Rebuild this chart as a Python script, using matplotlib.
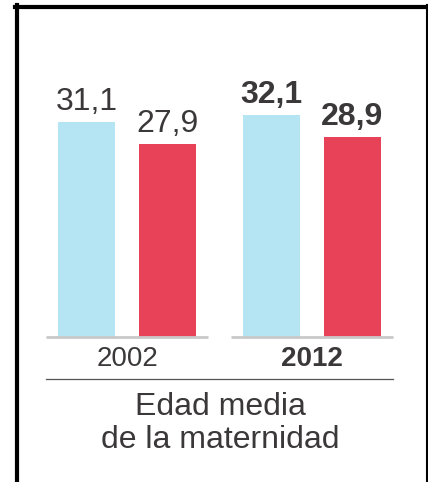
import matplotlib.pyplot as plt
from matplotlib.lines import Line2D

plt.rcParams['font.family'] = ['Liberation Sans', 'DejaVu Sans']

# data
years = ['2002', '2012']
edad_media = [31.1, 32.1]      # light blue bars
edad_primer = [27.9, 28.9]     # red bars
labels_blue = ['31,1', '32,1']
labels_red = ['27,9', '28,9']
bold_year = [False, True]
caption = ['Edad media', 'de la maternidad']

W, H = 428, 482
DPI = 100
BLUE = '#b5e4f3'
RED = '#e84258'
TXT = '#3b383a'

fig = plt.figure(figsize=(W / DPI, H / DPI), dpi=DPI)

# axes placed in pixel space: x 46..393, baseline at y=337 (from top)
ax = fig.add_axes([46 / W, (H - 337) / H, 347 / W, 327 / H])
ax.set_xlim(-0.438, 1.438)
ax.set_ylim(0, 47.25)
ax.axis('off')

off, bw = 0.219, 0.308
xs = list(range(len(years)))
ax.bar([x - off for x in xs], edad_media, width=bw, color=BLUE)
ax.bar([x + off for x in xs], edad_primer, width=bw, color=RED)

for i in xs:
    w = 'bold' if bold_year[i] else 'normal'
    ax.annotate(labels_blue[i], (i - off, edad_media[i]), xytext=(0, 8.5),
                textcoords='offset points', ha='center', va='baseline',
                fontsize=23, color=TXT, fontweight=w)
    ax.annotate(labels_red[i], (i + off, edad_primer[i]), xytext=(0, 8.5),
                textcoords='offset points', ha='center', va='baseline',
                fontsize=23, color=TXT, fontweight=w)
    # grey baseline under each group
    ax.plot([i - 0.438, i + 0.438], [0, 0], color='#c9c9c9', lw=2,
            solid_capstyle='butt', clip_on=False)
    ax.text(i, -3.25, years[i], ha='center', va='center', fontsize=20,
            color=TXT, fontweight=w)

# separator line
fig.add_artist(Line2D([46 / W, 393 / W], [(H - 379) / H] * 2,
                      color='#555555', lw=0.9))

fig.text(220 / W, (H - 415) / H, caption[0], ha='center', va='baseline',
         fontsize=23, color=TXT)
fig.text(220 / W, (H - 448) / H, caption[1], ha='center', va='baseline',
         fontsize=23, color=TXT)

# frame (left, top, right)
fig.add_artist(Line2D([17 / W, 17 / W], [0, (H - 5) / H], color='black', lw=3))
fig.add_artist(Line2D([15 / W, 1], [(H - 7) / H] * 2, color='black', lw=3))
fig.add_artist(Line2D([426.5 / W, 426.5 / W], [0, (H - 5) / H], color='black', lw=1.5))

fig.savefig('out.png', dpi=DPI)
